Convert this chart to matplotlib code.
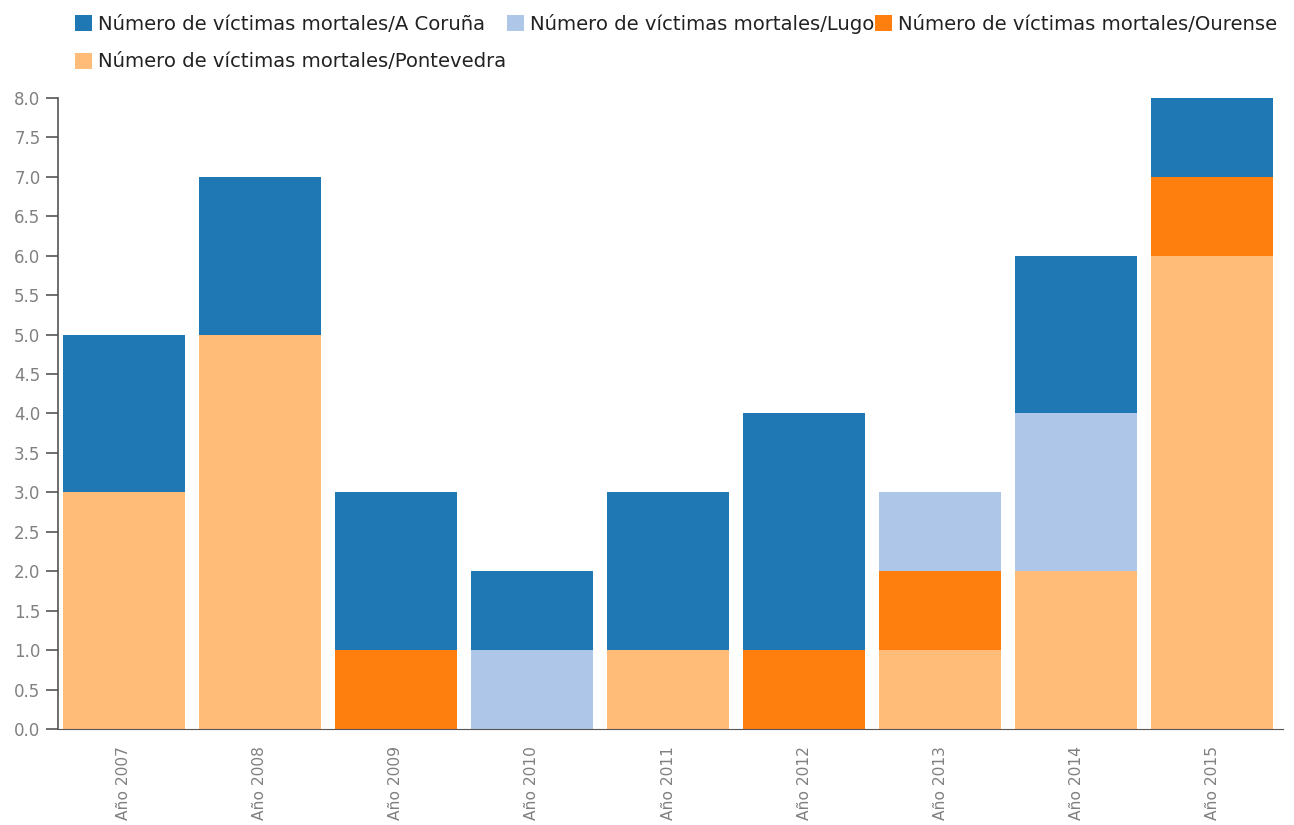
import numpy as np
import matplotlib
matplotlib.use("Agg")
import matplotlib.pyplot as plt

# data
years = ["Año 2007", "Año 2008", "Año 2009", "Año 2010", "Año 2011",
         "Año 2012", "Año 2013", "Año 2014", "Año 2015"]
pontevedra = [3, 5, 0, 0, 1, 0, 1, 2, 6]
ourense = [0, 0, 1, 0, 0, 1, 1, 0, 1]
lugo = [0, 0, 0, 1, 0, 0, 1, 2, 0]
a_coruna = [2, 2, 2, 1, 2, 3, 0, 2, 1]

labels = ["Número de víctimas mortales/A Coruña",
          "Número de víctimas mortales/Lugo",
          "Número de víctimas mortales/Ourense",
          "Número de víctimas mortales/Pontevedra"]
colors = ["#1f77b4", "#aec7e8", "#ff7f0e", "#ffbb78"]

fig = plt.figure(figsize=(12.94, 8.25), dpi=100)
ax = fig.add_axes([0.0452, 0.1164, 0.9463, 0.7648])

x = np.arange(len(years))
w = 0.9
# stack from the bottom: Pontevedra, Ourense, Lugo, A Coruña
bottom = np.zeros(len(years))
bars = {}
for vals, lab, col in [(pontevedra, labels[3], colors[3]),
                       (ourense, labels[2], colors[2]),
                       (lugo, labels[1], colors[1]),
                       (a_coruna, labels[0], colors[0])]:
    bars[lab] = ax.bar(x, vals, w, bottom=bottom, color=col, label=lab)
    bottom += np.array(vals)

ax.set_xlim(-0.48, 8.52)
ax.set_ylim(0, 8)
ax.set_yticks(np.arange(0, 8.01, 0.5))
ax.set_yticklabels([f"{v:.1f}" for v in np.arange(0, 8.01, 0.5)])
ax.set_xticks(x)
ax.set_xticklabels(years, rotation=90)

for s in ["top", "right"]:
    ax.spines[s].set_visible(False)
ax.spines["left"].set_color("#555555")
ax.spines["bottom"].set_color("#555555")
ax.spines["left"].set_linewidth(1.2)
ax.tick_params(axis="y", colors="#555555", labelcolor="#808080", labelsize=12,
               length=9, width=1.2, pad=4)
ax.tick_params(axis="x", length=0, labelcolor="#808080", labelsize=11.2, pad=12)

# legend fills column by column, so order it to read row-wise like the original
order = [labels[0], labels[3], labels[1], labels[2]]
handles = [bars[l] for l in order]
fig.legend(handles, order, loc="upper left", bbox_to_anchor=(0.047, 1.0),
           ncol=3, frameon=False, fontsize=14.1, handlelength=0.88, handleheight=0.88,
           handletextpad=0.3, columnspacing=0.05, labelspacing=0.95, borderaxespad=0.3,
           labelcolor="#222222")

fig.savefig("out.png", dpi=100)
